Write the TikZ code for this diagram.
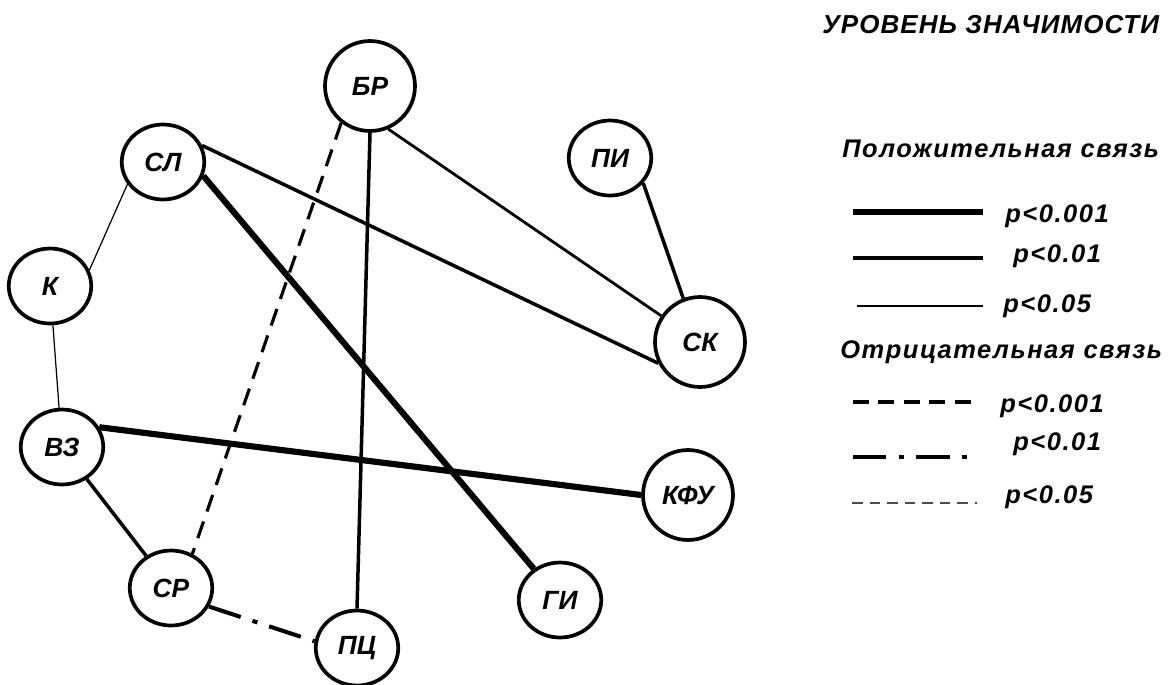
\documentclass[tikz,border=0pt]{standalone}
\usepackage{fontspec}
\setmainfont{Liberation Sans}
\usetikzlibrary{shapes.geometric}
\usetikzlibrary{positioning}

\tikzset{
  vert/.style={ellipse, draw, line width=2.1pt, minimum width=1.65cm, minimum height=1.5cm,
    inner sep=0pt, font=\fontsize{15}{17}\selectfont\bfseries\itshape},
  bigvert/.style={vert, minimum width=1.8cm, minimum height=1.8cm},
  pthick/.style={line width=3.5pt},
  pmid/.style={line width=2pt},
  pthin/.style={line width=0.7pt},
  nthick/.style={line width=1.8pt, dash pattern=on 10pt off 6pt},
  nmid/.style={line width=2.3pt, dash pattern=on 19pt off 7pt on 3pt off 7pt},
  nthin/.style={line width=0.8pt, black!70, dash pattern=on 6pt off 4pt},
  legtext/.style={anchor=base west, inner sep=0pt,
    font=\fontsize{14.5}{16}\selectfont\bfseries\itshape\addfontfeatures{LetterSpace=6}}
}

\begin{document}
\begin{tikzpicture}[x=0.02cm, y=-0.02cm]
    \useasboundingbox (0, 0) rectangle (1172, 684);

    % nodes
    \node [bigvert] (br) at (370, 86) {БР};
    \node [vert] (sl) at (163, 162) {СЛ};
    \node [vert] (k) at (50, 286) {К};
    \node [vert] (vz) at (62, 447) {ВЗ};
    \node [vert] (sr) at (171, 588) {СР};
    \node [vert] (pc) at (357, 648) {ПЦ};
    \node [vert] (gi) at (560, 600) {ГИ};
    \node [bigvert] (kfu) at (688, 495) {КФУ};
    \node [bigvert] (sk) at (700, 342) {СК};
    \node [vert] (pi) at (610, 158) {ПИ};

    % positive links
    \draw [pthin] (sl.212) -- (k.22);
    \draw [pthin] (k) -- (vz);
    \draw [pmid] (vz) -- (sr);
    \draw [pthick] (vz.28) -- (kfu.180);
    \draw [pthick] (sl.-19) -- (gi.130);
    \draw [pmid] (sl.23) -- (sk.207);
    \draw [pmid, line width=1.6pt] (br.-67) -- (sk.146);
    \draw [pmid] (pi.-37) -- (sk.111);
    \draw [pmid] (br.south) -- (pc.north);

    % negative links
    \draw [nthick] (br.232) -- (sr.58);
    \draw [nmid] (sr.-26) -- (pc.171);

    % legend
    \node [legtext, font=\fontsize{14.8}{16}\selectfont\bfseries\itshape\addfontfeatures{LetterSpace=4}] (title) at (822, 33) {УРОВЕНЬ ЗНАЧИМОСТИ};
    \node [legtext] (pos) at (842, 157) {Положительная связь};
    \draw [pthick, line width=3.9pt] (853, 212) -- (983, 212);
    \node [legtext] (pa) at (1005, 222) {p<0.001};
    \draw [pmid, line width=2.3pt] (853, 258) -- (983, 258);
    \node [legtext] (pb) at (1013, 262) {p<0.01};
    \draw [pthin, line width=0.8pt] (857, 306) -- (983, 306);
    \node [legtext] (pc5) at (1003, 312) {p<0.05};

    \node [legtext] (neg) at (840, 358) {Отрицательная связь};
    \draw [nthick, dash pattern=on 9pt off 5.5pt] (853, 402) -- (972, 402);
    \node [legtext] (na) at (1000, 412) {p<0.001};
    \draw [nmid] (853, 457) -- (973, 457);
    \node [legtext] (nb) at (1013, 450) {p<0.01};
    \draw [nthin] (852, 503) -- (977, 503);
    \node [legtext] (nc) at (1005, 503) {p<0.05};
\end{tikzpicture}
\end{document}
